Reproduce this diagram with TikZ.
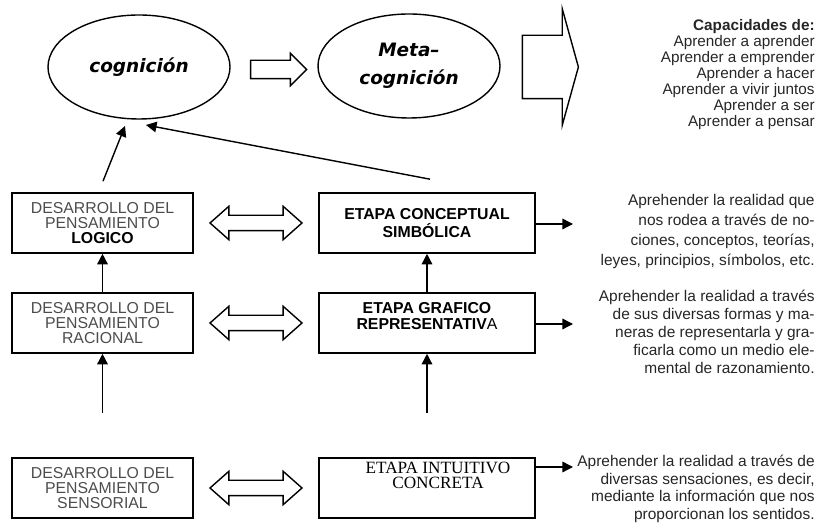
\documentclass[tikz,border=0pt]{standalone}
\usepackage{fontspec}
\setmainfont{Liberation Sans}
\newfontfamily\comicfont{DejaVu Sans}
\newfontfamily\timesfont{Liberation Serif}
\usetikzlibrary{shapes.geometric,shapes.arrows,arrows.meta,calc}

\begin{document}
\begin{tikzpicture}[
	nube/.style={draw,line width=0.8pt,ellipse,minimum width=3.64cm,minimum height=2.08cm,inner sep=0pt,align=center,font=\comicfont\bfseries\itshape\fontsize{10.5}{16}\selectfont},
	desarrollo/.style={draw,line width=0.9pt,minimum width=3.62cm,minimum height=1.2cm,inner sep=0pt,align=center,text=black!70,font=\fontsize{9}{8.3}\selectfont},
	etapa/.style={draw,line width=0.9pt,minimum width=4.32cm,minimum height=1.2cm,inner sep=0pt,align=center,font=\bfseries\fontsize{9}{10.2}\selectfont},
	dobleflecha/.style={draw,line width=0.8pt,double arrow,minimum height=1.84cm,inner xsep=0pt,inner ysep=0.14cm,double arrow head extend=0.18cm,double arrow tip angle=83},
	flecha/.style={-{Triangle[length=6pt,width=6pt]},line width=0.8pt},
	texto/.style={align=right,anchor=north east,inner sep=0pt,text=black!85}]
	\useasboundingbox (0,0) rectangle (16.62,10.48);
	\node[nube] (cog) at (2.78,9.14) {cognición};
	\node[nube] (meta) at (8.18,9.16) {Meta–\\cognición};
	\node[draw,line width=0.8pt,single arrow,minimum height=1.12cm,inner xsep=0pt,inner ysep=0.17cm,single arrow head extend=0.14cm] (paso) at ($(cog.east)!0.5!(meta.west)+(0,-0.06)$) {};
	\node[draw,line width=0.8pt,single arrow,minimum height=1.12cm,inner xsep=0pt,inner ysep=0.62cm,single arrow head extend=0.53cm,single arrow tip angle=149] (salida) at (10.92,9.14) {};
	\node[texto,font=\fontsize{8.7}{9.1}\selectfont] (capac) at (16.3,10.1) {\textbf{Capacidades de:}\\Aprender a aprender\\Aprender a emprender\\Aprender a hacer\\Aprender a vivir juntos\\Aprender a ser\\Aprender a pensar};
	\node[desarrollo] (log) at (2.05,6.02) {DESARROLLO DEL\\PENSAMIENTO\\\textbf{\color{black}LOGICO}};
	\node[desarrollo] (rac) at (2.05,4.02) {DESARROLLO DEL\\PENSAMIENTO\\RACIONAL};
	\node[desarrollo] (sen) at (2.05,0.72) {DESARROLLO DEL\\PENSAMIENTO\\SENSORIAL};
	\node[etapa] (con) at (8.54,6.02) {ETAPA CONCEPTUAL\\SIMBÓLICA};
	\node[etapa] (gra) at (8.54,4.02) {};
	\node[align=center,inner sep=0pt,font=\bfseries\fontsize{9}{9.6}\selectfont] (graT) at ($(gra.center)+(0,0.14)$) {ETAPA GRAFICO\\REPRESENTATIV\textmd{A}};
	\node[etapa] (int) at (8.54,0.72) {};
	\node[align=center,inner sep=0pt,font=\timesfont\fontsize{9.8}{8.6}\selectfont] (intT) at ($(int.center)+(0.22,0.26)$) {ETAPA INTUITIVO\\CONCRETA};
	\node[dobleflecha] (d1) at ($(log.east)!0.5!(con.west)$) {};
	\node[dobleflecha] (d2) at ($(rac.east)!0.5!(gra.west)$) {};
	\node[dobleflecha] (d3) at ($(sen.east)!0.5!(int.west)$) {};
	\node[texto,font=\fontsize{8.8}{11.4}\selectfont] (tcon) at (16.3,6.6) {Aprehender la realidad que\\nos rodea a través de no-\\ciones, conceptos, teorías,\\leyes, principios, símbolos, etc.};
	\node[texto,font=\fontsize{8.8}{10.2}\selectfont] (tgra) at (16.3,4.68) {Aprehender la realidad a través\\de sus diversas formas y ma-\\neras de representarla y gra-\\ficarla como un medio ele-\\mental de razonamiento.};
	\node[texto,font=\fontsize{8.8}{10}\selectfont] (tint) at (16.3,1.38) {Aprehender la realidad a través de\\diversas sensaciones, es decir,\\mediante la información que nos\\proporcionan los sentidos.};
	\coordinate (racBajo) at ($(rac.south)+(0,-1.18)$);
	\coordinate (graBajo) at ($(gra.south)+(0,-1.18)$);
	\coordinate (logArr) at ($(log.north)+(0.01,0.22)$);
	\coordinate (conArr) at ($(con.north)+(0.06,0.26)$);
	\coordinate (cogA) at (2.5,7.96);
	\coordinate (cogB) at (2.92,7.98);
	\coordinate (conFin) at (11.46,6.0);
	\coordinate (graFin) at (11.46,4.0);
	\coordinate (intFin) at (11.46,1.14);
	\draw[flecha] (rac) -- (log);
	\draw[flecha] (gra) -- (con);
	\draw[flecha] (racBajo) -- (rac);
	\draw[flecha] (graBajo) -- (gra);
	\draw[flecha] (logArr) -- (cogA);
	\draw[flecha] (conArr) -- (cogB);
	\draw[flecha] (con.east |- conFin) -- (conFin);
	\draw[flecha] (gra.east |- graFin) -- (graFin);
	\draw[flecha] (int.east |- intFin) -- (intFin);
\end{tikzpicture}
\end{document}
